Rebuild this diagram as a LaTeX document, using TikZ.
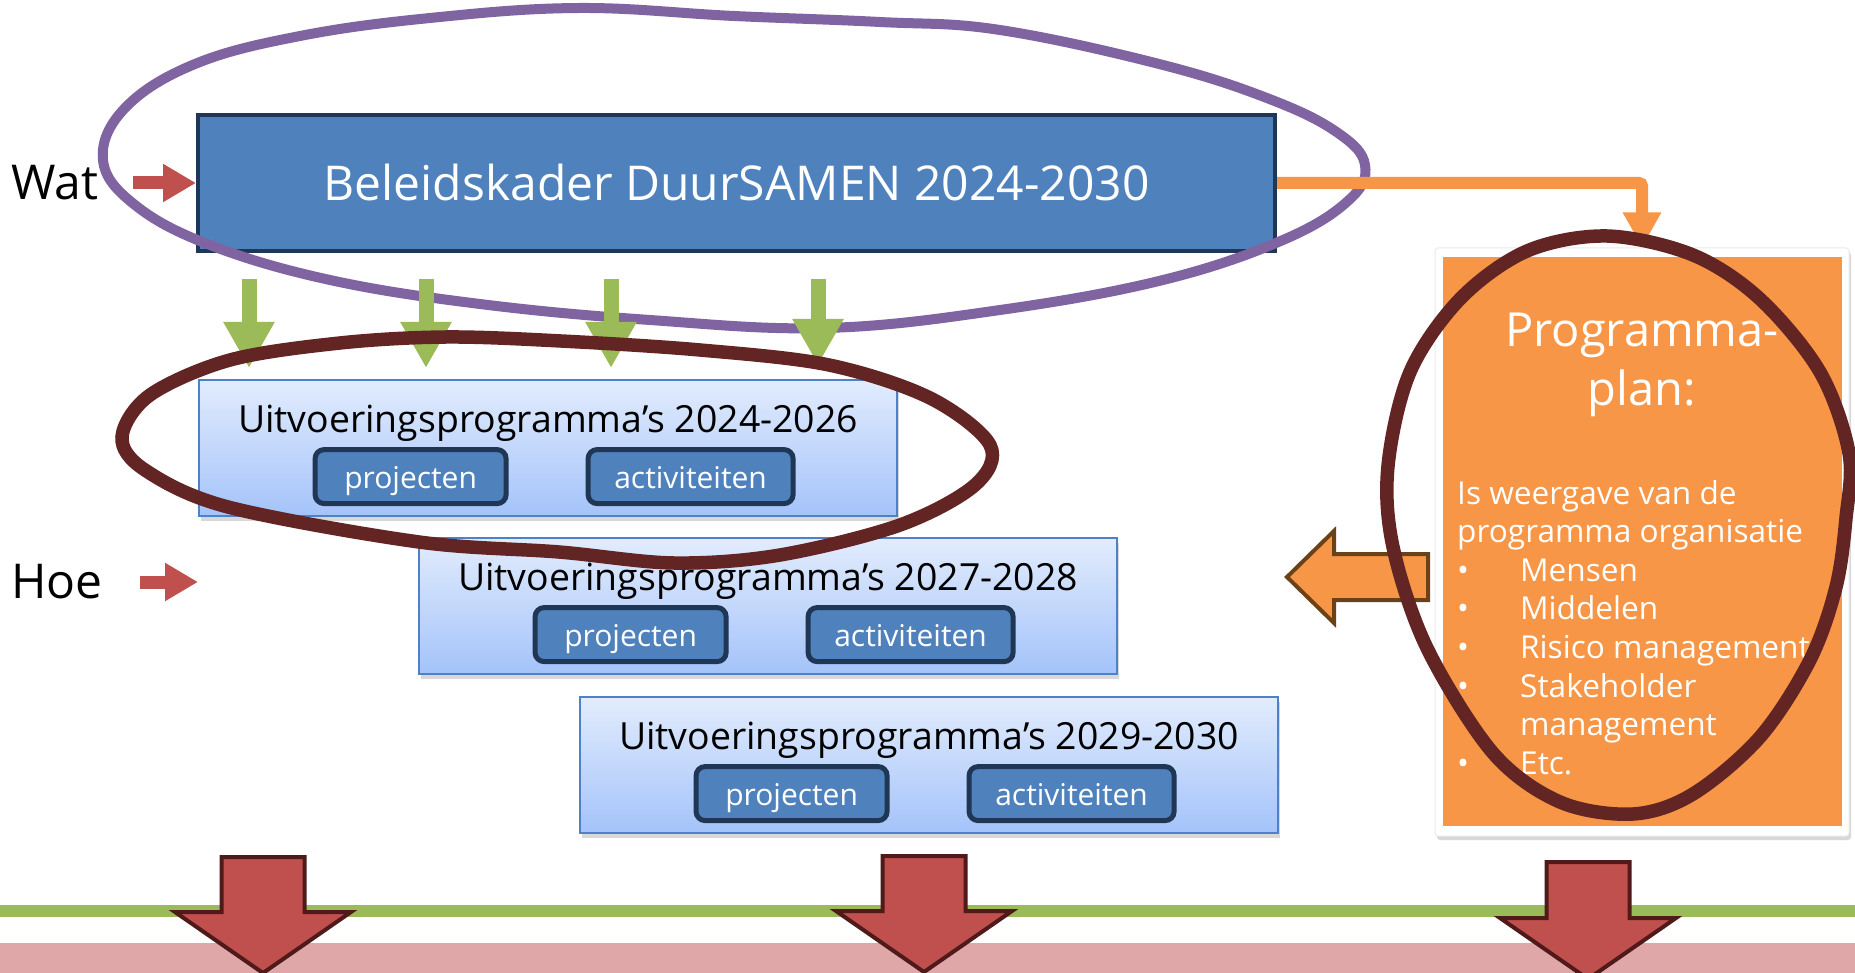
\documentclass[tikz,border=0pt]{standalone}
\usepackage{fontspec}
\setmainfont{Open Sans}
\usetikzlibrary{arrows.meta,shadows,calc}
\definecolor{blueF}{HTML}{4F81BD}
\definecolor{navy}{HTML}{1F3654}
\definecolor{lightT}{HTML}{E2ECFD}
\definecolor{lightB}{HTML}{A4C3FA}
\definecolor{lborder}{HTML}{4F81C9}
\definecolor{greenA}{HTML}{9BBB59}
\definecolor{redA}{HTML}{C0504D}
\definecolor{redB}{HTML}{511A1A}
\definecolor{orangeA}{HTML}{F79646}
\definecolor{orangeB}{HTML}{6B4218}
\definecolor{purpleA}{HTML}{8064A2}
\definecolor{darkred}{HTML}{632523}
\definecolor{pinkband}{HTML}{DFA7A7}
\begin{document}
\begin{tikzpicture}[x=1pt,y=-1pt,
  bigbox/.style={draw=navy, line width=4pt, fill=blueF, text=white,
    font=\fontsize{48}{57}\selectfont, minimum width=1077pt, minimum height=136pt, inner sep=0pt},
  uitbox/.style={draw=lborder, line width=1.8pt, top color=lightT, bottom color=lightB,
    minimum width=698pt, minimum height=136pt, inner sep=0pt,
    drop shadow={shadow xshift=2pt, shadow yshift=-5pt, opacity=0.3}},
  uittitle/.style={font=\fontsize{37.4}{44}\selectfont, inner sep=0pt, anchor=base},
  btn/.style={draw=navy, line width=5pt, fill=blueF, text=white, rounded corners=9pt,
    minimum height=54pt, inner sep=0pt, text height=26pt, text depth=2pt,
    font=\fontsize{30}{36}\selectfont},
  lbl/.style={font=\fontsize{48}{57}\selectfont, inner sep=0pt, anchor=west},
  smallred/.style={draw=redA, line width=13pt, -{Triangle[width=36pt,length=33pt]}},
  garrow/.style={draw=greenA, line width=15pt, -{Triangle[width=48pt,length=46pt]}},
  oconn/.style={draw=orangeA, line width=12pt, rounded corners=3pt, -{Triangle[width=36pt,length=35pt]}},
  bigred/.style={fill=redA, draw=redB, line width=4pt},
  oarrow/.style={fill=orangeA, draw=orangeB, line width=4pt},
  ring/.style={draw=darkred, line width=13.5pt},
  pring/.style={draw=purpleA, line width=10pt},
  pptitle/.style={font=\fontsize{47}{58}\selectfont, text=white, inner sep=0pt, anchor=base},
  ppbody/.style={font=\fontsize{31.6}{38}\selectfont, text=white, inner sep=0pt, anchor=base west},
]
\useasboundingbox (0,0) rectangle (1855,973);
\clip (0,0) rectangle (1855,973);
\fill[white] (0,0) rectangle (1855,973);

% bottom bands
\fill[pinkband] (0,943) rectangle (1855,973);
\fill[greenA] (0,905) rectangle (1855,917);

% big red arrows
\draw[bigred] (221.5,857) -- (304.5,857) -- (304.5,912) -- (351,912) -- (263,973) -- (175,912) -- (221.5,912) -- cycle;
\draw[bigred] (882.5,856) -- (965.5,856) -- (965.5,911) -- (1012,911) -- (924,972) -- (836,911) -- (882.5,911) -- cycle;
\draw[bigred] (1546.5,862) -- (1629.5,862) -- (1629.5,918) -- (1676,918) -- (1588,979) -- (1500,918) -- (1546.5,918) -- cycle;

% main box
\node[bigbox] (bk) at (736.5,183) {Beleidskader DuurSAMEN 2024-2030};

% labels
\node[lbl] (wat) at (11,183) {Wat};
\node[lbl] (hoe) at (11,582) {Hoe};
\coordinate (wa) at (133,183);
\coordinate (ha) at (140,582);
\coordinate (hb) at (198,582);
\draw[smallred] (wa) -- (bk.west);
\draw[smallred] (ha) -- (hb);

% Uitvoeringsprogramma boxes
\node[uitbox] (u1) at (548,448) {};
\node[uittitle] (t1) at ($(u1.north)+(0,53)$) {Uitvoeringsprogramma’s 2024-2026};
\node[btn, minimum width=191pt] (p1) at ($(u1.north west)+(212.5,97.5)$) {projecten};
\node[btn, minimum width=205pt] (a1) at ($(u1.north west)+(492.5,97.5)$) {activiteiten};

\node[uitbox] (u2) at (768,606) {};
\node[uittitle] (t2) at ($(u2.north)+(0,53)$) {Uitvoeringsprogramma’s 2027-2028};
\node[btn, minimum width=191pt] (p2) at ($(u2.north west)+(212.5,97.5)$) {projecten};
\node[btn, minimum width=205pt] (a2) at ($(u2.north west)+(492.5,97.5)$) {activiteiten};

\node[uitbox] (u3) at (929,765) {};
\node[uittitle] (t3) at ($(u3.north)+(0,53)$) {Uitvoeringsprogramma’s 2029-2030};
\node[btn, minimum width=191pt] (p3) at ($(u3.north west)+(212.5,97.5)$) {projecten};
\node[btn, minimum width=205pt] (a3) at ($(u3.north west)+(492.5,97.5)$) {activiteiten};

% Programma-plan box
\node[draw=black!8, line width=1pt, fill=white, rounded corners=3pt, minimum width=414pt, minimum height=588pt,
  drop shadow={shadow xshift=2pt, shadow yshift=-4pt, opacity=0.3}] (pp) at (1642,542) {};
\node[fill=orangeA, minimum width=399pt, minimum height=569pt, inner sep=0pt] (po) at (1642.5,541.5) {};
\node[pptitle] (pt1) at (1642,347) {Programma-};
\node[pptitle] (pt2) at (1642,405) {plan:};
\node[ppbody] (b1) at (1457,504) {Is weergave van de};
\node[ppbody] (b2) at (1457,542.6) {programma organisatie};
\node[ppbody] (b3) at (1457,581.2) {\makebox[63pt][l]{•}Mensen};
\node[ppbody] (b4) at (1457,619.8) {\makebox[63pt][l]{•}Middelen};
\node[ppbody] (b5) at (1457,658.4) {\makebox[63pt][l]{•}Risico management};
\node[ppbody] (b6) at (1457,697) {\makebox[63pt][l]{•}Stakeholder};
\node[ppbody] (b7) at (1457,735.6) {\hspace*{63pt}management};
\node[ppbody] (b8) at (1457,774.2) {\makebox[63pt][l]{•}Etc.};

% orange block arrow pointing left
\draw[oarrow] (1428,554) -- (1334,554) -- (1334,531) -- (1287,577) -- (1334,623) -- (1334,600) -- (1428,600) -- cycle;

% purple ring
\draw[pring] plot[smooth cycle, tension=0.65] coordinates {
  (103,160) (125,108) (195,64) (300,36) (430,18) (579,8) (734,16) (880,22) (1000,30)
  (1163,65) (1272,100) (1338,133) (1365,165) (1349,200) (1283,240) (1163,280) (1000,310)
  (826,328) (650,320) (480,304) (330,280) (210,245) (135,205)};

% green arrows
\coordinate (g1) at (249,279); \coordinate (g2) at (426,279);
\coordinate (g3) at (611,279); \coordinate (g4) at (818,279);
\draw[garrow] (g1) -- (g1 |- 0,368);
\draw[garrow] (g2) -- (g2 |- 0,368);
\draw[garrow] (g3) -- (g3 |- 0,368);
\draw[garrow] (g4) -- (g4 |- 0,365);

% orange connector
\draw[oconn] (bk.east) -| (pp.north);

% dark red rings
\draw[ring] plot[smooth cycle, tension=0.55] coordinates {
  (122,437) (150,395) (230,360) (340,343) (446,337) (561,341) (700,350) (829,365)
  (930,398) (990,445) (975,485) (900,525) (780,555) (674,563) (559,552) (419,542)
  (228,507) (145,470)};
\draw[ring] plot[smooth cycle, tension=0.55] coordinates {
  (1607,236) (1693,255) (1760,299) (1820,372) (1849,453) (1846,518) (1836,587)
  (1810,660) (1760,737) (1693,794) (1633,814) (1560,802) (1493,753) (1427,648)
  (1393,547) (1388,466) (1410,372) (1460,299) (1527,251)};
\end{tikzpicture}
\end{document}
